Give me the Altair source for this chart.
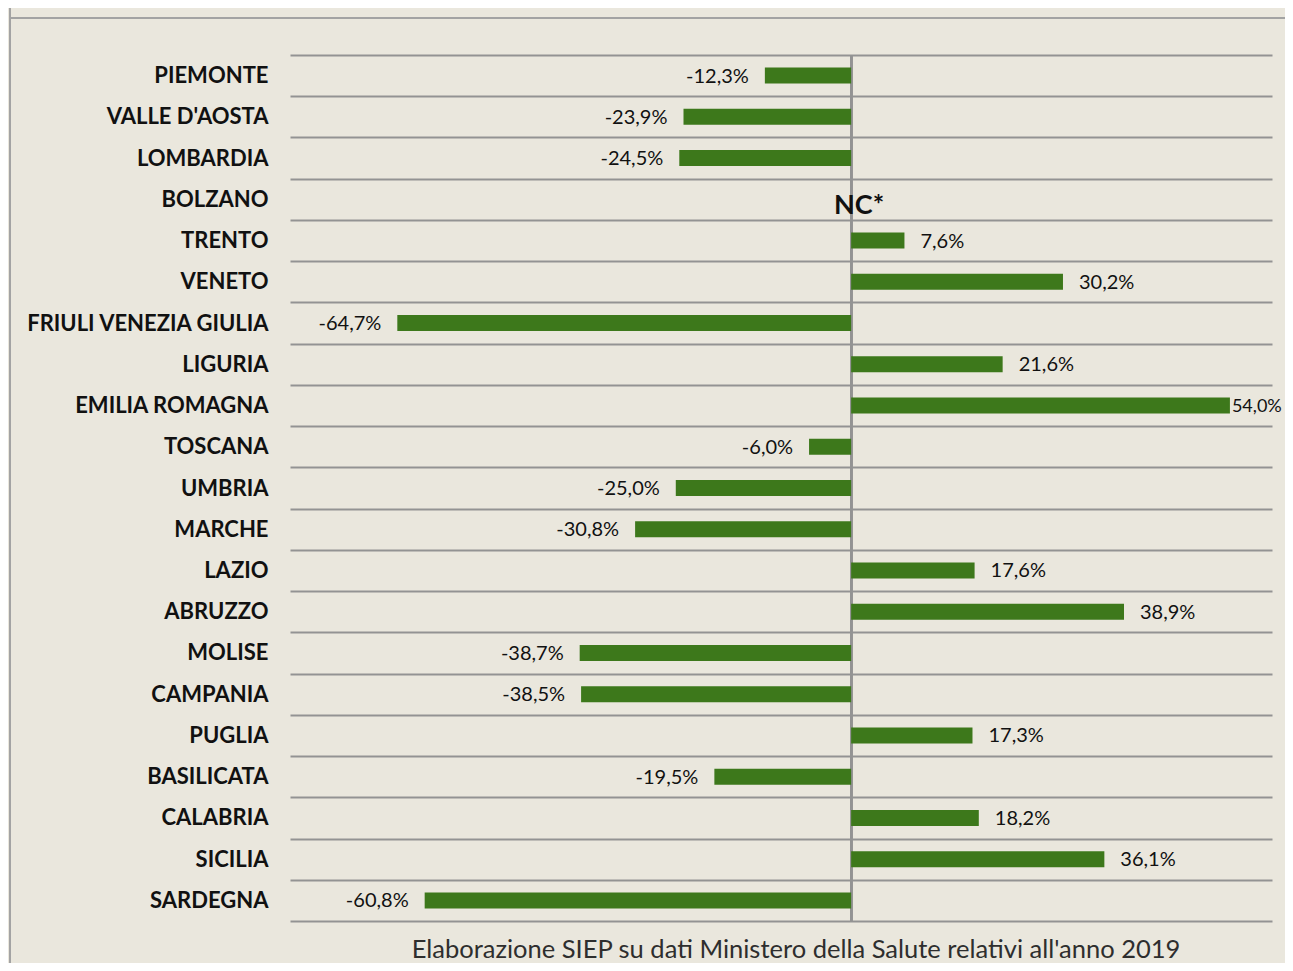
import altair as alt
import pandas as pd

regions = ["PIEMONTE", "VALLE D'AOSTA", "LOMBARDIA", "BOLZANO", "TRENTO", "VENETO",
           "FRIULI VENEZIA GIULIA", "LIGURIA", "EMILIA ROMAGNA", "TOSCANA", "UMBRIA",
           "MARCHE", "LAZIO", "ABRUZZO", "MOLISE", "CAMPANIA", "PUGLIA", "BASILICATA",
           "CALABRIA", "SICILIA", "SARDEGNA"]
values = [-12.3, -23.9, -24.5, None, 7.6, 30.2, -64.7, 21.6, 54.0, -6.0, -25.0,
          -30.8, 17.6, 38.9, -38.7, -38.5, 17.3, -19.5, 18.2, 36.1, -60.8]
nc_regions = ["BOLZANO"]
nc_text = ["NC*"]
source_note = ["Elaborazione SIEP su dati Ministero della Salute relativi all'anno 2019"]

FONT = "Lato"
BG = "#eae7dd"
GRID = "#939393"
GREEN = "#3d781b"

def fmt(v):
    return f"{v:.1f}".replace(".", ",") + "%"

df = pd.DataFrame({"region": regions, "value": values})
df = df.dropna()
df["label"] = df["value"].apply(fmt)

pos = df[(df["value"] >= 0) & (df["value"] < 50)]
edge = df[df["value"] >= 50]
neg = df[df["value"] < 0]

xscale = alt.Scale(domain=[-80, 60], nice=False, zero=False)
yscale = alt.Scale(domain=regions, paddingInner=0, paddingOuter=0)

y_enc = alt.Y("region:N", sort=None, scale=yscale,
              axis=alt.Axis(title=None, domain=False, ticks=False, tickBand="extent",
                            grid=True, gridColor=GRID, gridWidth=2,
                            labelFont=FONT, labelFontSize=22, labelFontWeight="bold",
                            labelColor="#111111", labelPadding=22, labelLimit=400))

base = alt.Chart(df)

bars = base.mark_bar(size=16, color=GREEN).encode(
    x=alt.X("value:Q", scale=xscale, axis=None),
    x2=alt.datum(0),
    y=y_enc,
)

def label_layer(data, align, dx, size):
    return alt.Chart(data).mark_text(align=align, baseline="middle", dx=dx, dy=1,
                                     font=FONT, fontSize=size, color="#111111").encode(
        x=alt.X("value:Q", scale=xscale, axis=None),
        y=alt.Y("region:N", sort=None, scale=yscale),
        text="label:N",
    )

pos_text = label_layer(pos, "left", 16, 20)
edge_text = label_layer(edge, "left", 2, 18)
neg_text = label_layer(neg, "right", -16, 20)

nc_df = pd.DataFrame({"region": nc_regions, "text": nc_text, "zero": [0] * len(nc_regions)})
nc = alt.Chart(nc_df).mark_text(align="center", baseline="middle", dx=8, dy=7,
                                font=FONT, fontSize=27, fontWeight="bold",
                                color="#111111").encode(
    x=alt.X("zero:Q", scale=xscale, axis=None),
    y=alt.Y("region:N", sort=None, scale=yscale),
    text="text:N",
)

zero_line = alt.Chart(df).mark_rule(color=GRID, strokeWidth=2).encode(
    x=alt.X(datum=0, scale=xscale, axis=None),
    y=alt.value(0), y2=alt.value(866),
)

note = alt.Chart(pd.DataFrame({"t": source_note})).mark_text(
    align="center", baseline="middle", font=FONT, fontSize=25.5, color="#2e2e2e"
).encode(x=alt.value(506), y=alt.value(895), text="t:N")

left_border = alt.Chart(df).mark_rule(color="#a3a3a3", strokeWidth=2).encode(
    x=alt.value(-280), y=alt.value(-60), y2=alt.value(916))
top_border = alt.Chart(df).mark_rule(color="#a3a3a3", strokeWidth=2).encode(
    x=alt.value(-280), x2=alt.value(1010), y=alt.value(-37))

chart = alt.layer(
    left_border, top_border, zero_line, bars, pos_text, edge_text, neg_text, nc, note
).properties(
    width=982, height=866,
    padding={"left": 282, "top": 47, "right": 13, "bottom": 42},
    autosize=alt.AutoSizeParams(type="none"),
    background=BG,
).configure_view(stroke=None)

chart.save("out.html", embed_options={"renderer": "svg", "actions": False})
